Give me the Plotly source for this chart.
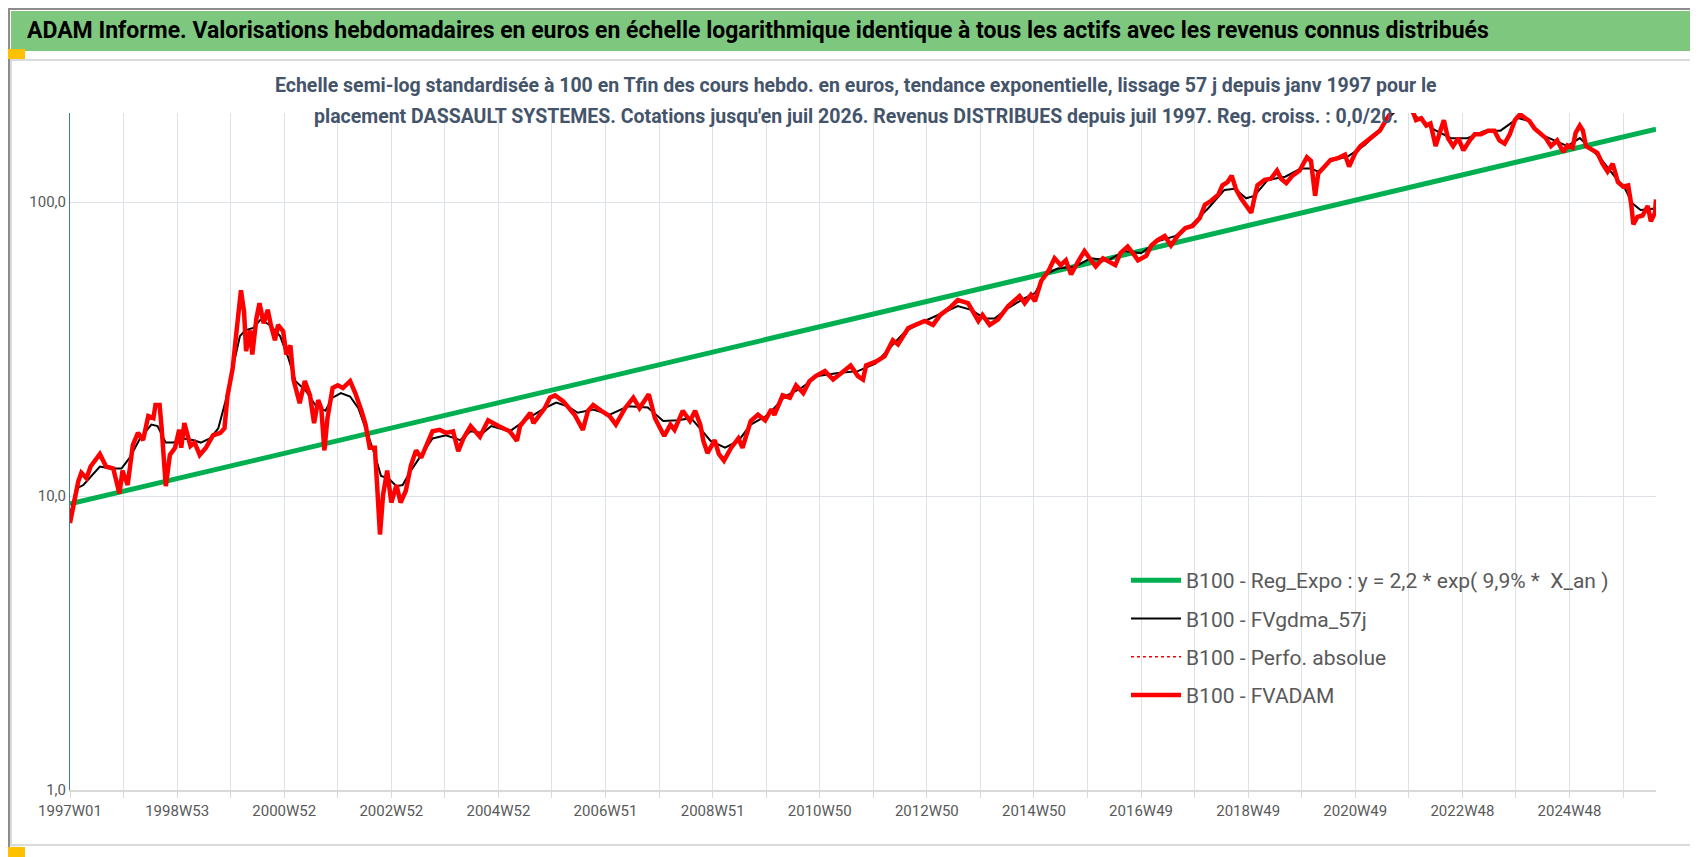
import plotly.graph_objects as go

# ======================================================
# Data (week number counted from 1997W01)
# ======================================================

tick_labels = ["1997W01", "1998W53", "2000W52", "2002W52", "2004W52", "2006W51",
               "2008W51", "2010W50", "2012W50", "2014W50", "2016W49", "2018W49",
               "2020W49", "2022W48", "2024W48"]
tick_weeks = [0, 104, 208, 312, 416, 520, 624, 728, 832, 936, 1040, 1144, 1248, 1352, 1456]

reg_weeks = [0, 1540]
reg_values = [9.4, 177]

red_weeks = [
    0, 5, 8, 11, 16, 20, 29, 35, 42, 48, 51, 56, 61, 66, 71, 76, 81, 83, 87, 89,
    93, 97, 102, 106, 108, 111, 117, 121, 126, 132, 139, 146, 150, 153, 158, 161, 164, 166, 169, 171,
    175, 177, 181, 184, 188, 192, 195, 199, 202, 207, 210, 214, 217, 223, 228, 233, 237, 241, 244, 247,
    250, 255, 260, 265, 272, 277, 283, 287, 291, 296, 298, 301, 304, 308, 312, 317, 321, 326, 331, 336,
    341, 346, 352, 359, 365, 372, 377, 382, 389, 398, 406, 416, 427, 434, 437, 447, 450, 461, 466, 471,
    479, 490, 498, 503, 508, 516, 524, 530, 539, 547, 553, 562, 568, 577, 583, 587, 595, 602, 607, 612,
    615, 619, 626, 630, 635, 642, 649, 653, 661, 668, 675, 681, 684, 692, 699, 705, 712, 718, 724, 733,
    741, 749, 758, 765, 770, 773, 783, 791, 799, 804, 814, 821, 830, 838, 845, 854, 862, 872, 882, 886,
    893, 901, 911, 922, 927, 933, 937, 943, 950, 956, 962, 967, 972, 979, 985, 990, 996, 1003, 1008, 1015,
    1020, 1027, 1034, 1037, 1045, 1050, 1056, 1063, 1069, 1076, 1083, 1090, 1097, 1102, 1108, 1115, 1119, 1124, 1128, 1132,
    1137, 1142, 1147, 1150, 1153, 1160, 1166, 1172, 1176, 1181, 1187, 1194, 1201, 1205, 1209, 1212, 1218, 1224, 1231, 1238,
    1242, 1248, 1253, 1260, 1267, 1272, 1277, 1282, 1286, 1291, 1297, 1302, 1307, 1312, 1317, 1321, 1326, 1330, 1334, 1338,
    1343, 1348, 1353, 1359, 1364, 1370, 1377, 1383, 1388, 1393, 1398, 1403, 1408, 1413, 1417, 1422, 1427, 1433, 1438, 1444,
    1450, 1454, 1459, 1462, 1466, 1469, 1472, 1479, 1483, 1488, 1493, 1498, 1503, 1508, 1513, 1516, 1518, 1522, 1527, 1532,
    1535, 1539, 1540,
]
red_values = [
    8.1, 10.1, 11.2, 12.0, 11.5, 12.6, 13.9, 12.6, 12.4, 10.2, 12.2, 10.9, 14.9, 16.4, 15.5, 18.7, 18.4, 20.4, 20.4, 17.0,
    10.8, 13.8, 14.6, 16.8, 14.6, 17.7, 14.8, 15.2, 13.8, 14.6, 16.1, 16.4, 17.0, 22.0, 27.2, 34.5, 43.6, 50.1, 42.4, 31.1,
    36.6, 30.3, 40.2, 45.3, 38.7, 43.0, 38.2, 33.9, 38.2, 36.3, 30.3, 32.5, 24.9, 20.7, 24.6, 22.0, 17.7, 21.2, 19.9, 14.3,
    18.4, 23.3, 23.8, 23.3, 24.6, 22.4, 19.5, 17.5, 14.6, 14.6, 11.2, 7.4, 10.1, 12.2, 9.5, 10.9, 9.5, 10.4, 12.7, 14.3,
    13.5, 14.9, 16.6, 16.8, 16.4, 16.6, 14.2, 15.7, 17.3, 15.9, 18.1, 17.3, 16.6, 15.4, 17.3, 19.2, 17.7, 19.9, 21.6, 22.0,
    21.0, 18.9, 16.8, 19.5, 20.4, 19.5, 18.7, 17.5, 19.9, 21.6, 19.9, 22.2, 18.4, 16.0, 17.5, 16.8, 19.5, 18.0, 19.5, 17.5,
    15.4, 14.0, 15.5, 13.9, 13.2, 14.6, 15.7, 14.6, 18.0, 18.9, 18.1, 19.7, 18.9, 22.0, 21.6, 23.8, 22.4, 24.6, 25.6, 26.6,
    24.9, 26.2, 27.8, 25.6, 24.9, 27.8, 28.7, 29.9, 33.9, 32.8, 37.3, 38.2, 39.4, 38.2, 41.3, 43.6, 46.4, 45.3, 39.4, 41.3,
    38.2, 39.8, 44.3, 47.9, 45.3, 48.3, 46.0, 53.9, 58.2, 64.4, 61.0, 63.4, 56.7, 62.9, 68.1, 64.4, 60.4, 64.4, 62.9, 61.0,
    67.0, 70.6, 65.6, 63.4, 65.6, 71.2, 74.2, 76.6, 71.2, 77.2, 81.6, 82.9, 88.2, 97.9, 101, 106, 114, 117, 123, 111,
    103, 98, 92, 103, 114, 119, 120, 128, 120, 116, 123, 128, 142, 138, 105, 125, 132, 139, 141, 145,
    132, 147, 155, 162, 170, 175, 188, 200, 225, 205, 235, 210, 190, 193, 182, 185, 155, 172, 190, 165,
    155, 165, 150, 162, 170, 170, 175, 175, 162, 158, 170, 190, 199, 193, 189, 178, 172, 165, 155, 162,
    148, 156, 153, 172, 182, 175, 155, 150, 147, 135, 127, 135, 117, 113, 114, 98, 84, 89, 90, 97,
    86, 92, 102,
]

black_weeks = [
    0, 6, 13, 29, 39, 50, 58, 68, 79, 85, 93, 100, 110, 119, 127, 136, 144, 151, 158, 165,
    170, 178, 185, 194, 204, 212, 219, 229, 239, 248, 255, 263, 272, 280, 287, 296, 302, 309, 317, 323,
    331, 341, 352, 365, 379, 389, 401, 409, 427, 445, 461, 472, 483, 493, 508, 524, 542, 561, 576, 590,
    603, 613, 622, 636, 649, 661, 678, 694, 710, 726, 746, 765, 782, 797, 811, 830, 846, 862, 875, 888,
    898, 911, 927, 937, 947, 959, 976, 991, 1008, 1024, 1040, 1056, 1073, 1088, 1105, 1121, 1131, 1142, 1150, 1163,
    1180, 1195, 1205, 1212, 1224, 1241, 1257, 1272, 1282, 1294, 1309, 1325, 1341, 1357, 1374, 1389, 1406, 1416, 1428, 1442,
    1454, 1466, 1474, 1486, 1500, 1510, 1517, 1525, 1539,
]
black_values = [
    8.6, 10.6, 10.9, 12.6, 12.4, 12.4, 13.5, 15.7, 17.5, 17.3, 15.2, 15.2, 15.7, 15.5, 15.2, 15.7, 17.0, 21.0, 27.2, 35.0,
    36.6, 37.3, 39.8, 38.2, 35.0, 29.5, 24.6, 22.8, 20.2, 19.5, 21.6, 22.4, 21.8, 19.9, 17.0, 13.8, 11.7, 11.5, 10.8, 10.9,
    12.2, 13.8, 15.7, 16.1, 15.5, 16.6, 16.4, 17.3, 16.6, 18.4, 19.9, 20.8, 20.2, 19.2, 19.7, 18.9, 20.2, 20.0, 18.0, 18.1,
    18.4, 16.8, 15.4, 14.6, 15.4, 17.5, 18.9, 21.8, 23.3, 25.6, 26.2, 26.6, 28.2, 32.2, 36.3, 39.4, 41.9, 44.3, 43.0, 40.2,
    40.2, 43.6, 47.1, 49.0, 56.7, 59.4, 60.4, 64.4, 63.4, 68.1, 67.0, 73.6, 76.6, 82.9, 95.1, 110, 111, 103, 105, 119,
    122, 130, 130, 127, 138, 143, 156, 175, 196, 215, 193, 176, 165, 165, 175, 175, 193, 189, 170, 162,
    155, 165, 155, 141, 122, 111, 99, 94, 95,
]

# ======================================================
# Page geometry (pixels) -> paper coordinates
# ======================================================

W, H = 1698, 857
L, R, T, B = 62, 1648, 105, 782


def px(x):
    return (x - L) / (R - L)


def py(y):
    return (B - y) / (B - T)


FONT = "Roboto, Liberation Sans, sans-serif"
GRID = "#DCE1E8"

fig = go.Figure()

fig.add_trace(go.Scatter(
    x=reg_weeks, y=reg_values, mode="lines",
    name="B100 - Reg_Expo : y = 2,2 * exp( 9,9% *  X_an )",
    line=dict(color="#00B050", width=5), legendgroup="a"
))
fig.add_trace(go.Scatter(
    x=black_weeks, y=black_values, mode="lines",
    name="B100 - FVgdma_57j",
    line=dict(color="black", width=2), legendgroup="b"
))
fig.add_trace(go.Scatter(
    x=red_weeks, y=red_values, mode="lines",
    name="B100 - Perfo. absolue",
    line=dict(color="#FF0000", width=1.5, dash="dot"), legendgroup="c"
))
fig.add_trace(go.Scatter(
    x=red_weeks, y=red_values, mode="lines",
    name="B100 - FVADAM",
    line=dict(color="#FF0000", width=4.5), legendgroup="d"
))


def box(x0, x1, y0, y1, **kw):
    return dict(type="rect", xref="paper", yref="paper",
                x0=px(x0), x1=px(x1), y0=py(y0), y1=py(y1), **kw)


shapes = [
    # outer border
    box(1, W - 1, 1, H - 1, line=dict(color="#8C8C8C", width=2)),
    # green title bar
    box(3, 1690, 3, 43, fillcolor="#7DC87E", line=dict(width=0), layer="below"),
    # chart frame
    box(3, 1690, 52, 837, line=dict(color="#DADADA", width=2), layer="below"),
    # orange handles
    box(0, 17, 41, 51, fillcolor="#FFC000", line=dict(width=0)),
    box(1683, 1698, 41, 55, fillcolor="#FFC000", line=dict(width=0)),
    box(0, 17, 839, 850, fillcolor="#FFC000", line=dict(width=0)),
    box(1691, 1698, 802, 848, fillcolor="#FFC000", line=dict(width=0)),
]


def text(s, x, y, size, color, anchor="center", bold=True):
    return dict(text=s, xref="paper", yref="paper", x=px(x), y=py(y),
                xanchor=anchor, yanchor="middle", showarrow=False,
                font=dict(family=FONT, size=size, color=color,
                          weight="bold" if bold else "normal"))


annotations = [
    text("ADAM Informe. Valorisations hebdomadaires en euros en échelle logarithmique "
         "identique à tous les actifs avec les revenus connus distribués",
         17, 22, 23, "black", anchor="left"),
    text("Echelle semi-log standardisée à 100 en Tfin des cours hebdo. en euros, tendance "
         "exponentielle, lissage 57 j depuis janv 1997 pour le",
         848, 77, 19.5, "#44546A"),
    text("placement DASSAULT SYSTEMES. Cotations jusqu'en juil 2026. Revenus DISTRIBUES "
         "depuis juil 1997. Reg. croiss. : 0,0/20.",
         848, 109, 19.5, "#44546A"),
]

fig.update_layout(
    width=W, height=H,
    margin=dict(l=L, r=W - R, t=T, b=H - B),
    paper_bgcolor="white", plot_bgcolor="white",
    font=dict(family=FONT, color="#595959"),
    separators=", ",
    shapes=shapes,
    annotations=annotations,
    showlegend=True,
    legend=dict(x=px(1118), y=py(552), xanchor="left", yanchor="top",
                font=dict(family=FONT, size=21, color="#595959"),
                bgcolor="rgba(0,0,0,0)", traceorder="grouped", tracegroupgap=8,
                itemwidth=50),
    xaxis=dict(
        range=[0, 1540], tickmode="array", tickvals=tick_weeks, ticktext=tick_labels,
        showgrid=True, gridcolor=GRID, gridwidth=1,
        showline=True, linecolor="#D9D9D9", linewidth=2,
        ticks="outside", ticklen=6, tickcolor="#D9D9D9",
        minor=dict(tick0=0, dtick=52, showgrid=True, gridcolor=GRID,
                   ticks="outside", ticklen=6, tickcolor="#D9D9D9"),
        tickfont=dict(family=FONT, size=15, color="#595959"),
        zeroline=False,
    ),
    yaxis=dict(
        type="log", range=[0, 2.303], tickmode="array",
        tickvals=[1, 10, 100], ticktext=["1,0", "10,0", "100,0"],
        showgrid=True, gridcolor=GRID, gridwidth=1,
        showline=True, linecolor="#4472C4", linewidth=1,
        ticks="", tickfont=dict(family=FONT, size=15, color="#595959"),
        zeroline=False,
    ),
)

fig.write_html("out.html")
